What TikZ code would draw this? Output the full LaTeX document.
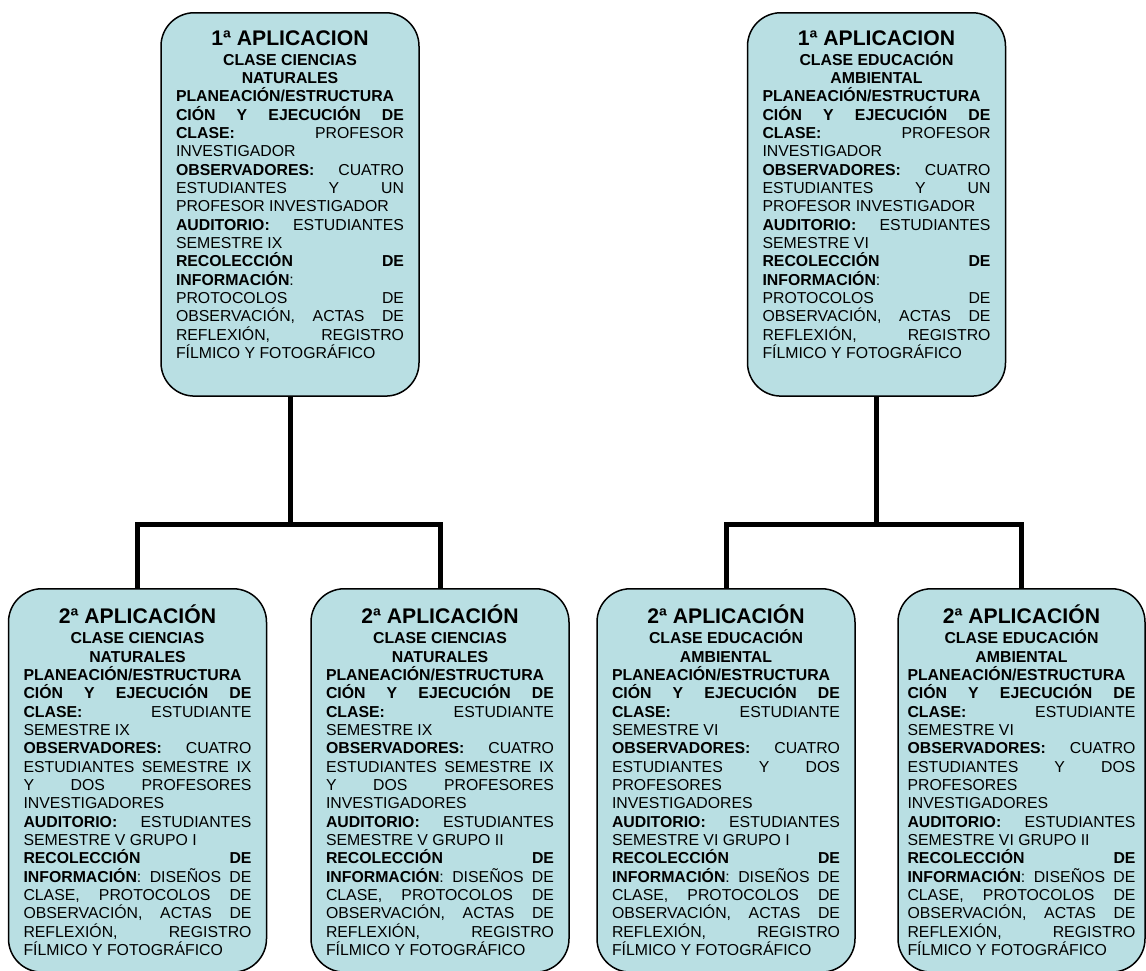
\documentclass[tikz,border=0pt]{standalone}
\usepackage{fontspec}
\setmainfont{Liberation Sans}
\definecolor{boxfill}{HTML}{B9DFE3}
\setlength{\parindent}{0pt}
\hyphenpenalty=10000
\tolerance=10000
\hbadness=10000
% centred heading of every box: title, then the two class lines
\newcommand{\apphead}[3]{{\centering\fontsize{12.7}{14}\selectfont\bfseries #1\par
  \fontsize{9.5}{11}\selectfont\vspace{1pt}#2\\#3\par}}
\begin{document}
\begin{tikzpicture}[x=0.6pt, y=-0.6pt,
    appbox/.style={draw=black, line width=0.9pt, fill=boxfill, rounded corners=20pt,
      text width=136.8pt, inner xsep=9pt, inner ysep=3pt, minimum height=230pt,
      align=justify, anchor=north, font=\fontsize{9.5}{11}\selectfont},
    link/.style={line width=3pt}]
    \useasboundingbox (0,0) rectangle (1146,971);

    % 1st application, natural science class
    \node[appbox] (t1) at (290,12) {\apphead{1ª APLICACION}{CLASE CIENCIAS}{NATURALES}
      \textbf{PLANEACIÓN/ESTRUCTURA\linebreak CIÓN Y EJECUCIÓN DE\linebreak CLASE:} PROFESOR\linebreak INVESTIGADOR\par
      \textbf{OBSERVADORES:} CUATRO\linebreak ESTUDIANTES Y UN\linebreak PROFESOR INVESTIGADOR\par
      \textbf{AUDITORIO:} ESTUDIANTES\linebreak SEMESTRE IX\par
      \textbf{RECOLECCIÓN DE\linebreak INFORMACIÓN}:\linebreak PROTOCOLOS DE\linebreak OBSERVACIÓN, ACTAS DE\linebreak REFLEXIÓN, REGISTRO\linebreak FÍLMICO Y FOTOGRÁFICO\rule[-12pt]{0pt}{12pt}};

    % 1st application, environmental education class
    \node[appbox] (t2) at (876.5,12) {\apphead{1ª APLICACION}{CLASE EDUCACIÓN}{AMBIENTAL}
      \textbf{PLANEACIÓN/ESTRUCTURA\linebreak CIÓN Y EJECUCIÓN DE\linebreak CLASE:} PROFESOR\linebreak INVESTIGADOR\par
      \textbf{OBSERVADORES:} CUATRO\linebreak ESTUDIANTES Y UN\linebreak PROFESOR INVESTIGADOR\par
      \textbf{AUDITORIO:} ESTUDIANTES\linebreak SEMESTRE VI\par
      \textbf{RECOLECCIÓN DE\linebreak INFORMACIÓN}:\linebreak PROTOCOLOS DE\linebreak OBSERVACIÓN, ACTAS DE\linebreak REFLEXIÓN, REGISTRO\linebreak FÍLMICO Y FOTOGRÁFICO\rule[-12pt]{0pt}{12pt}};

    % 2nd application, natural science, groups I and II
    \node[appbox] (b1) at (137.5,588) {\apphead{2ª APLICACIÓN}{CLASE CIENCIAS}{NATURALES}
      \textbf{PLANEACIÓN/ESTRUCTURA\linebreak CIÓN Y EJECUCIÓN DE\linebreak CLASE:} ESTUDIANTE\linebreak SEMESTRE IX\par
      \textbf{OBSERVADORES:} CUATRO\linebreak ESTUDIANTES SEMESTRE IX\linebreak Y DOS PROFESORES\linebreak INVESTIGADORES\par
      \textbf{AUDITORIO:} ESTUDIANTES\linebreak SEMESTRE V GRUPO I\par
      \textbf{RECOLECCIÓN DE\linebreak INFORMACIÓN}: DISEÑOS DE\linebreak CLASE, PROTOCOLOS DE\linebreak OBSERVACIÓN, ACTAS DE\linebreak REFLEXIÓN, REGISTRO\linebreak FÍLMICO Y FOTOGRÁFICO};
    \node[appbox] (b2) at (440,588) {\apphead{2ª APLICACIÓN}{CLASE CIENCIAS}{NATURALES}
      \textbf{PLANEACIÓN/ESTRUCTURA\linebreak CIÓN Y EJECUCIÓN DE\linebreak CLASE:} ESTUDIANTE\linebreak SEMESTRE IX\par
      \textbf{OBSERVADORES:} CUATRO\linebreak ESTUDIANTES SEMESTRE IX\linebreak Y DOS PROFESORES\linebreak INVESTIGADORES\par
      \textbf{AUDITORIO:} ESTUDIANTES\linebreak SEMESTRE V GRUPO II\par
      \textbf{RECOLECCIÓN DE\linebreak INFORMACIÓN}: DISEÑOS DE\linebreak CLASE, PROTOCOLOS DE\linebreak OBSERVACIÓN, ACTAS DE\linebreak REFLEXIÓN, REGISTRO\linebreak FÍLMICO Y FOTOGRÁFICO};

    % 2nd application, environmental education, groups I and II
    \node[appbox] (b3) at (726,588) {\apphead{2ª APLICACIÓN}{CLASE EDUCACIÓN}{AMBIENTAL}
      \textbf{PLANEACIÓN/ESTRUCTURA\linebreak CIÓN Y EJECUCIÓN DE\linebreak CLASE:} ESTUDIANTE\linebreak SEMESTRE VI\par
      \textbf{OBSERVADORES:} CUATRO\linebreak ESTUDIANTES Y DOS\linebreak PROFESORES\linebreak INVESTIGADORES\par
      \textbf{AUDITORIO:} ESTUDIANTES\linebreak SEMESTRE VI GRUPO I\par
      \textbf{RECOLECCIÓN DE\linebreak INFORMACIÓN}: DISEÑOS DE\linebreak CLASE, PROTOCOLOS DE\linebreak OBSERVACIÓN, ACTAS DE\linebreak REFLEXIÓN, REGISTRO\linebreak FÍLMICO Y FOTOGRÁFICO};
    \node[appbox, inner xsep=5.7pt] (b4) at (1021.5,588) {\apphead{2ª APLICACIÓN}{CLASE EDUCACIÓN}{AMBIENTAL}
      \textbf{PLANEACIÓN/ESTRUCTURA\linebreak CIÓN Y EJECUCIÓN DE\linebreak CLASE:} ESTUDIANTE\linebreak SEMESTRE VI\par
      \textbf{OBSERVADORES:} CUATRO\linebreak ESTUDIANTES Y DOS\linebreak PROFESORES\linebreak INVESTIGADORES\par
      \textbf{AUDITORIO:} ESTUDIANTES\linebreak SEMESTRE VI GRUPO II\par
      \textbf{RECOLECCIÓN DE\linebreak INFORMACIÓN}: DISEÑOS DE\linebreak CLASE, PROTOCOLOS DE\linebreak OBSERVACIÓN, ACTAS DE\linebreak REFLEXIÓN, REGISTRO\linebreak FÍLMICO Y FOTOGRÁFICO};

    % connectors
    \coordinate (j1) at (290,524);
    \coordinate (j2) at (876.5,524);
    \draw[link] (t1.south) -- (j1) -| (b1.north);
    \draw[link] (j1) -| (b2.north);
    \draw[link] (t2.south) -- (j2) -| (b3.north);
    \draw[link] (j2) -| (b4.north);
\end{tikzpicture}
\end{document}
